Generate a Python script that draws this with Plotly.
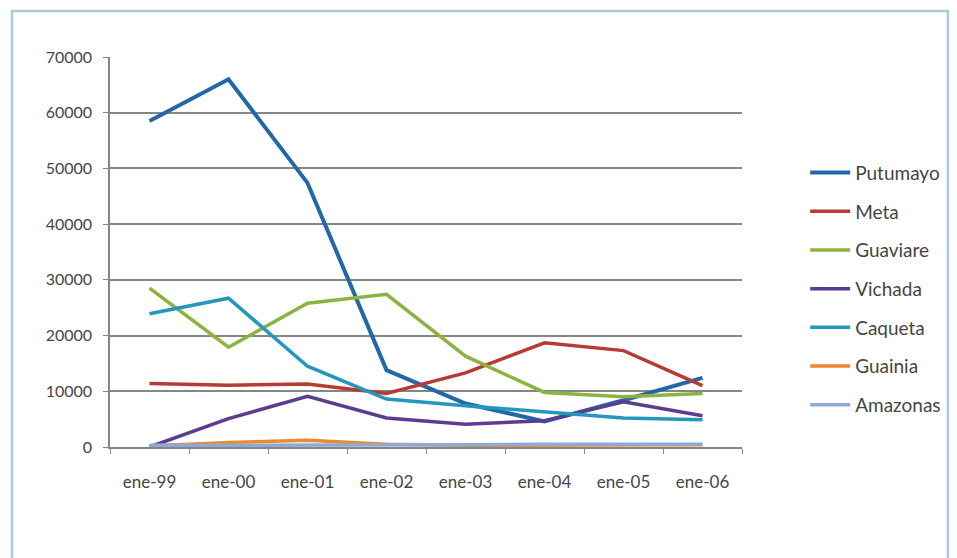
import plotly.graph_objects as go

categories = ["ene-99", "ene-00", "ene-01", "ene-02", "ene-03", "ene-04", "ene-05", "ene-06"]

putumayo = [58500, 66000, 47400, 13800, 7800, 4600, 8400, 12400]
meta = [11400, 11100, 11300, 9600, 13300, 18700, 17300, 11000]
guaviare = [28500, 17900, 25800, 27400, 16300, 9800, 9000, 9600]
vichada = [0, 5100, 9100, 5200, 4100, 4700, 8100, 5600]
caqueta = [23900, 26700, 14500, 8600, 7400, 6300, 5200, 4900]
guainia = [200, 800, 1200, 500, 300, 300, 400, 400]
amazonas = [300, 300, 400, 400, 400, 500, 500, 500]

series_names = ["Putumayo", "Meta", "Guaviare", "Vichada", "Caqueta", "Guainia", "Amazonas"]
series_values = [putumayo, meta, guaviare, vichada, caqueta, guainia, amazonas]
series_colors = ["#2267A8", "#B83A35", "#8CB33F", "#5A3D8F", "#2397BE", "#EE8A2E", "#8EA9D6"]
series_widths = [4, 3.5, 3.5, 3.5, 3.5, 3.5, 3.5]

fig = go.Figure()
for name, vals, col, w in zip(series_names, series_values, series_colors, series_widths):
    fig.add_trace(go.Scatter(
        x=categories, y=vals, name=name, mode="lines",
        line=dict(color=col, width=w), legendgroup=name,
    ))

font_family = "Lato, 'Open Sans', sans-serif"
L, T, PW, PH = 102, 49, 632, 390
fig.update_layout(
    width=957, height=558,
    margin=dict(l=L, r=957 - L - PW, t=T, b=558 - T - PH),
    paper_bgcolor="white", plot_bgcolor="white",
    font=dict(family=font_family, size=17, color="#454545"),
    showlegend=True,
    legend=dict(
        x=1.100, y=0.752, xanchor="left", yanchor="top",
        bgcolor="rgba(0,0,0,0)", tracegroupgap=11,
        font=dict(size=19, color="#454545"),
        itemwidth=40,
    ),
    xaxis=dict(
        type="category", range=[-0.5, 7.5],
        showgrid=False, showline=True, linecolor="#868686", linewidth=1.5,
        ticks="outside", tickson="boundaries", ticklen=5, tickcolor="#868686",
        tickfont=dict(size=17, color="#454545"),
        ticklabelstandoff=19,
        zeroline=False,
    ),
    yaxis=dict(
        range=[0, 70000], dtick=10000, tickformat="d",
        showgrid=True, gridcolor="#868686", gridwidth=1.5,
        showline=True, linecolor="#868686", linewidth=1.5,
        ticks="outside", ticklen=5, tickcolor="#868686",
        tickfont=dict(size=16, color="#454545"),
        ticklabelstandoff=8,
        zeroline=False,
    ),
    shapes=[dict(
        type="rect", xref="paper", yref="paper",
        x0=(4 - L) / PW, x1=(940 - L) / PW,
        y0=(T + PH - 575) / PH, y1=(T + PH - 3) / PH,
        line=dict(color="#A9CAD8", width=2.5), fillcolor="rgba(0,0,0,0)", layer="below",
    )],
)

fig.write_html("out.html")
